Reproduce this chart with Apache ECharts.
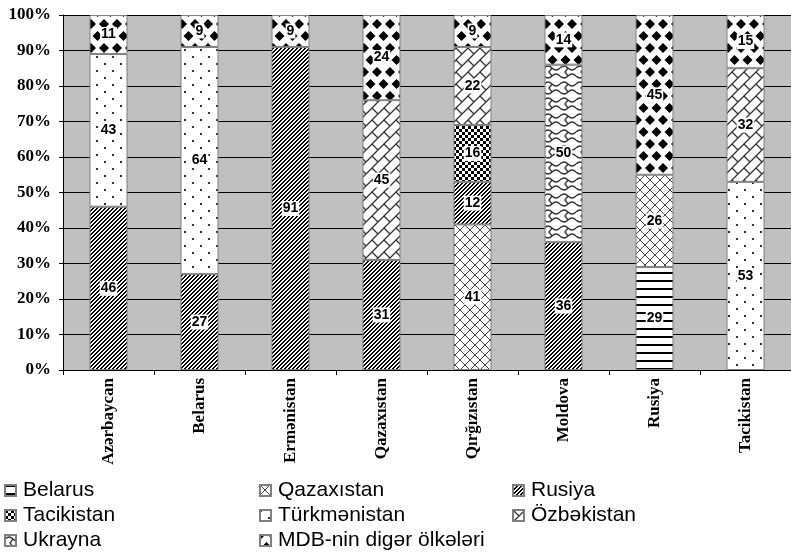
<!DOCTYPE html>
<html>
<head>
<meta charset="utf-8">
<script src="https://cdn.jsdelivr.net/npm/echarts@6/dist/echarts.min.js"></script>
<style>
  html, body { margin: 0; padding: 0; background: #fff; }
  #main { width: 791px; height: 558px; }
</style>
</head>
<body>
<div id="main"></div>
<script>
// kateqoriyalar (ölkələr)
var categories = ['Azərbaycan', 'Belarus', 'Ermənistan', 'Qazaxıstan', 'Qırğızıstan', 'Moldova', 'Rusiya', 'Tacikistan'];
// seriyalar, %
var belarus      = [null, null, null, null, null, null, 29, null];
var qazaxistan   = [null, null, null, null, 41, null, 26, null];
var rusiya       = [46, 27, 91, 31, 12, 36, null, null];
var tacikistan   = [null, null, null, null, 16, null, null, null];
var turkmenistan = [43, 64, null, null, null, null, null, 53];
var ozbekistan   = [null, null, null, 45, 22, null, null, 32];
var ukrayna      = [null, null, null, null, null, 50, null, null];
var mdb          = [11, 9, 9, 24, 9, 14, 45, 15];

var yTicks = [0, 10, 20, 30, 40, 50, 60, 70, 80, 90, 100];

// naxış (pattern) hazırlamaq üçün
function pat(w, h, draw) {
  var c = document.createElement('canvas');
  c.width = w; c.height = h;
  var g = c.getContext('2d');
  g.fillStyle = '#fff';
  g.fillRect(0, 0, w, h);
  g.fillStyle = '#000';
  g.strokeStyle = '#000';
  draw(g, w, h);
  return { image: c, repeat: 'repeat' };
}

var pHoriz = pat(6, 8, function (g) { g.fillRect(0, 0, 6, 2); });
var pCross = pat(10, 10, function (g) {
  g.strokeStyle = '#444'; g.lineWidth = 1;
  g.beginPath();
  g.moveTo(0, 0); g.lineTo(10, 10);
  g.moveTo(10, 0); g.lineTo(0, 10);
  g.stroke();
});
var pDiag = pat(4, 4, function (g) {
  for (var x = 0; x < 4; x++) for (var y = 0; y < 4; y++) {
    if ((x + y) % 4 < 2) g.fillRect(x, y, 1, 1);
  }
});
var pCheck = pat(6, 6, function (g) { g.fillRect(0, 0, 3, 3); g.fillRect(3, 3, 3, 3); });
var pDots = pat(16, 14, function (g) {
  g.fillStyle = '#333';
  g.fillRect(0, 0, 2, 2); g.fillRect(8, 7, 2, 2);
});
var pBrick = pat(12, 12, function (g) {
  g.strokeStyle = '#333'; g.lineWidth = 1.3;
  g.beginPath();
  g.moveTo(0, 12); g.lineTo(12, 0);
  g.moveTo(-1, 1); g.lineTo(1, -1);
  g.moveTo(11, 13); g.lineTo(13, 11);
  g.moveTo(0, 0); g.lineTo(6, 6);
  g.stroke();
});
var pWave = pat(16, 16, function (g) {
  g.strokeStyle = '#333'; g.lineWidth = 1.3;
  g.beginPath();
  g.moveTo(0, 4); g.quadraticCurveTo(4, 0, 8, 4); g.quadraticCurveTo(12, 8, 16, 4);
  g.moveTo(8, 4); g.lineTo(5, 8); g.lineTo(8, 12);
  g.moveTo(0, 12); g.quadraticCurveTo(4, 16, 8, 12); g.quadraticCurveTo(12, 8, 16, 12);
  g.stroke();
});
var pSphere = pat(13, 24, function (g) {
  function dia(cx, cy) {
    var r = 5;
    g.beginPath();
    g.moveTo(cx, cy - r); g.lineTo(cx + r, cy); g.lineTo(cx, cy + r); g.lineTo(cx - r, cy);
    g.closePath(); g.fill();
  }
  dia(0, 0); dia(13, 0); dia(0, 24); dia(13, 24); dia(6.5, 12);
});

var labelStyle = {
  show: true,
  position: 'inside',
  color: '#000',
  fontFamily: 'Liberation Sans',
  fontWeight: 'bold',
  fontSize: 14,
  backgroundColor: '#fff',
  padding: [1, 1, 0, 1],
  formatter: function (p) { return p.value == null ? '' : p.value; }
};

function mk(name, data, color) {
  return {
    name: name,
    type: 'bar',
    stack: 'total',
    barWidth: 38,
    data: data,
    itemStyle: { color: color, borderColor: '#7f7f7f', borderWidth: 1 },
    label: labelStyle,
    emphasis: { disabled: true }
  };
}

var legendText = { fontFamily: 'Liberation Sans', fontSize: 21, color: '#000', lineHeight: 25, padding: [0, 0, 0, 2] };
function leg(left, names) {
  return {
    orient: 'vertical', left: left, top: 478, height: 80, padding: 0,
    itemWidth: 11, itemHeight: 11, itemGap: 0,
    icon: 'rect',
    textStyle: legendText,
    data: names,
    selectedMode: false
  };
}

var chart = echarts.init(document.getElementById('main'));
chart.setOption({
  animation: false,
  backgroundColor: '#fff',
  legend: [
    leg(4, ['Belarus', 'Tacikistan', 'Ukrayna']),
    leg(259, ['Qazaxıstan', 'Türkmənistan', 'MDB-nin digər ölkələri']),
    leg(512, ['Rusiya', 'Özbəkistan'])
  ],
  grid: {
    left: 63, right: -4, top: 15, bottom: 188,
    show: true, backgroundColor: '#c0c0c0', borderWidth: 0
  },
  xAxis: {
    type: 'category',
    data: categories,
    axisLine: { lineStyle: { color: '#000', width: 1 } },
    axisTick: { show: true, length: 5, lineStyle: { color: '#000' } },
    axisLabel: {
      rotate: 90, margin: 8, interval: 0,
      fontFamily: 'Liberation Serif', fontWeight: 'bold', fontSize: 17, color: '#000'
    }
  },
  yAxis: {
    type: 'value',
    min: yTicks[0], max: yTicks[yTicks.length - 1], interval: 10,
    axisLine: { show: true, lineStyle: { color: '#000', width: 1 } },
    axisTick: { show: true, length: 4, lineStyle: { color: '#000' } },
    splitLine: { lineStyle: { color: '#000', width: 1 } },
    axisLabel: {
      formatter: '{value}%', margin: 12,
      fontFamily: 'Liberation Serif', fontWeight: 'bold', fontSize: 17, color: '#000'
    }
  },
  series: [
    mk('Belarus', belarus, pHoriz),
    mk('Qazaxıstan', qazaxistan, pCross),
    mk('Rusiya', rusiya, pDiag),
    mk('Tacikistan', tacikistan, pCheck),
    mk('Türkmənistan', turkmenistan, pDots),
    mk('Özbəkistan', ozbekistan, pBrick),
    mk('Ukrayna', ukrayna, pWave),
    mk('MDB-nin digər ölkələri', mdb, pSphere)
  ]
});
</script>
</body>
</html>
